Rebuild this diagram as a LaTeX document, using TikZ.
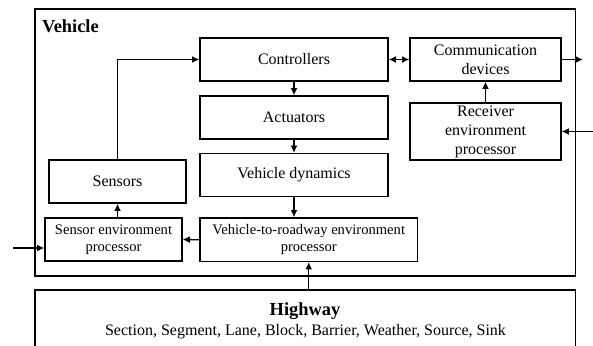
\documentclass[tikz,border=0pt]{standalone}
\usepackage{fontspec}
\setmainfont{Liberation Serif}
\usetikzlibrary{arrows.meta}

\tikzset{%
  block/.style={
    draw,
    inner sep=1pt,
    align=center,
    font=\fontsize{8}{9.5}\selectfont
  },
  small block/.style={
    block,
    font=\fontsize{7.3}{8.4}\selectfont
  },
  frame/.style={
    draw,
    inner sep=0pt
  },
  title/.style={
    inner sep=0pt,
    font=\fontsize{9.2}{11}\selectfont\bfseries
  },
}

\begin{document}
\begin{tikzpicture}[x=0.5pt, y=-0.5pt, line width=0.65pt, >={Latex[length=3.6pt,width=3.4pt]}]

    \useasboundingbox (0,0) rectangle (593,345);

    % outer frames
    \node [frame, minimum width=270.25pt, minimum height=133.5pt] (vehicle) at (305.25,142.5) {};
    \node [frame, minimum width=270.25pt, minimum height=40pt] (highway) at (305.25,330) {};

    \node [title, anchor=base west] (vehicle-title) at (41.5,32.5) {Vehicle};
    \node [title, anchor=base] (highway-title) at (305,315.5) {Highway};
    \node [block, draw=none, inner sep=0pt, anchor=base] (highway-list) at (305.5,335.5)
      {Section, Segment, Lane, Block, Barrier, Weather, Source, Sink};

    % middle column
    \foreach \n/\t/\y in {ctrl/Controllers/59.5, act/Actuators/117.5, dyn/Vehicle dynamics/175}
      \node [block, minimum width=94pt, minimum height=21.5pt] (\n) at (294,\y) {\t};

    \node [small block, minimum width=108.75pt, minimum height=21.75pt] (v2r) at (308.75,239.75)
      {Vehicle-to-roadway environment\\processor};

    % left column
    \node [block, minimum width=68.5pt, minimum height=21.5pt] (sens) at (117.5,181.5) {Sensors};
    \node [small block, minimum width=68.5pt, minimum height=21.5pt] (senv) at (113.5,239.5)
      {Sensor environment\\processor};

    % right column
    \node [block, minimum width=75.5pt, minimum height=21.5pt] (comm) at (485.5,59.5)
      {Communication\\devices};
    \node [block, minimum width=75.5pt, minimum height=28.5pt] (recv) at (485.5,131.5)
      {Receiver\\environment\\processor};

    \coordinate (in-left) at (13,248);
    \coordinate (in-right) at (593,131.5);
    \coordinate (out-right) at (583,59.5);

    % connectors
    \foreach \a/\b in {ctrl/act, act/dyn}
      \draw [->] (\a) -- (\b);

    \draw [->] (dyn.south) -- (dyn.south |- v2r.north);
    \draw [->] (v2r.west) -- (senv.east);
    \draw [->] (senv.north -| sens) -- (sens.south);
    \draw [->] (sens.north) |- (ctrl.west);
    \draw [->] (in-left) -- (in-left -| senv.west);
    \draw [->] (highway.north -| v2r) -- (v2r.south);

    \draw [<->] (ctrl.east) -- (comm.west);
    \draw [->] (comm.east) -- (out-right);
    \draw [->] (recv) -- (comm);
    \draw [->] (in-right) -- (recv.east);

\end{tikzpicture}
\end{document}
